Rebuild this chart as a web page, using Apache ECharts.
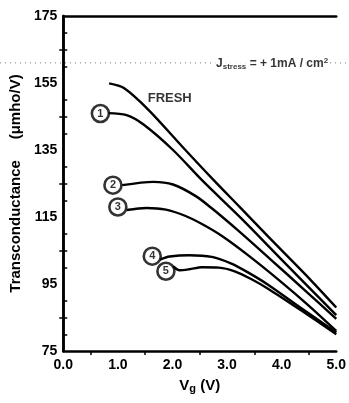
<!DOCTYPE html>
<html><head><meta charset="utf-8">
<script src="https://cdn.jsdelivr.net/npm/echarts/dist/echarts.min.js"></script>
<style>html,body{margin:0;padding:0;background:#fff}#c{width:349px;height:403px}</style>
</head><body><div id="c"></div>
<script>
// ---- data (Vg in V, transconductance in µmho/V) ----
const xTicks = [0, 1, 2, 3, 4, 5];
const yTicks = [75, 95, 115, 135, 155, 175];
const fresh  = [[0.84,154.9],[1.11,153.5],[1.56,147.0],[2.22,135.3],[2.72,126.6],[3.23,118.0],[3.75,109.2],[4.52,96.4],[5.0,88.0]];
const curve1 = [[0.82,146.0],[1.16,145.4],[1.47,142.6],[2.01,135.0],[2.54,126.0],[3.26,114.6],[3.98,102.6],[5.0,85.7]];
const curve2 = [[1.08,124.5],[1.65,125.5],[2.01,124.7],[2.42,121.3],[2.72,117.6],[3.2,111.0],[3.8,102.3],[4.4,93.5],[5.0,84.6]];
const curve3 = [[1.16,117.1],[1.52,117.7],[1.88,117.2],[2.24,115.3],[2.54,112.9],[2.90,109.4],[3.4,103.4],[4.0,95.5],[4.5,88.5],[5.0,81.0]];
const curve4 = [[1.77,102.3],[1.95,103.2],[2.31,103.6],[2.72,103.1],[3.08,101.1],[3.39,98.4],[3.75,94.8],[4.34,88.0],[5.0,80.5]];
const curve5 = [[2.01,100.3],[2.13,99.1],[2.31,99.4],[2.54,100.0],[2.85,99.9],[3.14,98.8],[3.44,96.5],[3.75,93.6],[4.34,87.3],[5.0,80.0]];
const curveMarkers = [[0.68,145.9,'1'],[0.91,124.5,'2'],[1.00,118.0,'3'],[1.63,103.3,'4'],[1.88,98.8,'5']];
const freshLabel = [[1.95,150.4,'FRESH']];
const stressLabel = [[2.78,160.8]];
const dottedLevel = 161;

const FONT = 'Liberation Sans';
const chart = echarts.init(document.getElementById('c'), null, {renderer:'canvas'});
const lineStyle = {color:'#000', width:2.4};
function curve(d){
  return {type:'line', data:d, smooth:0.3, symbol:'none', lineStyle:lineStyle, xAxisIndex:0, yAxisIndex:0, z:3};
}
const axisLine = {show:true, lineStyle:{color:'#000', width:2.5}};
chart.setOption({
  animation:false,
  backgroundColor:'#fff',
  grid:{left:60, right:10, top:16, bottom:52},
  xAxis:[{
    type:'value', min:xTicks[0], max:xTicks[xTicks.length-1], interval:1, position:'bottom',
    axisLine:axisLine, axisTick:{show:false},
    minorTick:{show:true, splitNumber:2, length:4, lineStyle:{color:'#000', width:1.5}},
    splitLine:{show:false},
    axisLabel:{formatter:v=>v.toFixed(1), fontFamily:FONT, fontWeight:'bold', fontSize:14, color:'#000', margin:7},
    name:'{v|V}{s|g}{v| (V)}', nameLocation:'middle', nameGap:26,
    nameTextStyle:{rich:{v:{fontFamily:FONT,fontWeight:'bold',fontSize:15,color:'#000'},s:{fontFamily:FONT,fontWeight:'bold',fontSize:11,color:'#000',verticalAlign:'bottom',padding:[6,0,0,0]}}}
  },{
    type:'value', min:xTicks[0], max:xTicks[xTicks.length-1], position:'top', axisLine:axisLine, axisTick:{show:false}, axisLabel:{show:false}, splitLine:{show:false}
  }],
  yAxis:[{
    type:'value', min:yTicks[0], max:yTicks[yTicks.length-1], interval:20, position:'left',
    axisLine:axisLine, axisTick:{show:false},
    minorTick:{show:true, splitNumber:2, length:4, lineStyle:{color:'#000', width:1.5}},
    splitLine:{show:false},
    axisLabel:{fontFamily:FONT, fontWeight:'bold', fontSize:14, color:'#000', margin:6},
    name:'Transconductance     ({m|μ}mho/V)', nameLocation:'middle', nameGap:37, nameRotate:90,
    nameTextStyle:{fontFamily:FONT, fontWeight:'bold', fontSize:15, color:'#000', rich:{m:{fontFamily:FONT,fontWeight:'bold',fontSize:15,color:'#000'}}}
  },{
    type:'value', min:yTicks[0], max:yTicks[yTicks.length-1], interval:20, position:'right',
    axisLine:axisLine, axisTick:{show:false}, axisLabel:{show:false},
    minorTick:{show:true, splitNumber:4, length:4, lineStyle:{color:'#000', width:1.5}},
    splitLine:{show:false}
  }],
  series:[
    curve(fresh), curve(curve1), curve(curve2), curve(curve3), curve(curve4), curve(curve5),
    {type:'scatter', data:curveMarkers, symbol:'circle', symbolSize:17, z:5,
     itemStyle:{color:'#fff', borderColor:'#000', borderWidth:2.6},
     label:{show:true, position:'inside', formatter:p=>p.data[2], fontFamily:FONT, fontWeight:'bold', fontSize:11, color:'#000'}},
    {type:'scatter', data:freshLabel, symbolSize:0, z:5,
     label:{show:true, position:'inside', formatter:p=>p.data[2], fontFamily:FONT, fontWeight:'bold', fontSize:13, color:'#000'}},
    {type:'scatter', data:stressLabel, symbolSize:0, z:6,
     label:{show:true, position:'right', distance:0, backgroundColor:'#fff', padding:[0,1,0,1],
       formatter:'{a|J}{b|stress}{a| = + 1mA / cm}{c|2}',
       rich:{a:{fontFamily:FONT,fontWeight:'bold',fontSize:12,color:'#000'},
             b:{fontFamily:FONT,fontWeight:'bold',fontSize:8,color:'#000',padding:[6,0,0,0]},
             c:{fontFamily:FONT,fontWeight:'bold',fontSize:8,color:'#000',padding:[0,0,6,0]}}}}
  ]
});
// scan artefact: dotted horizontal rule across the whole picture
const yPix = chart.convertToPixel({yAxisIndex:0}, dottedLevel);
chart.setOption({graphic:[{type:'line', z:1, shape:{x1:0, y1:yPix, x2:349, y2:yPix},
  style:{stroke:'#777', lineWidth:1, lineDash:[1,4]}}]});
</script></body></html>
